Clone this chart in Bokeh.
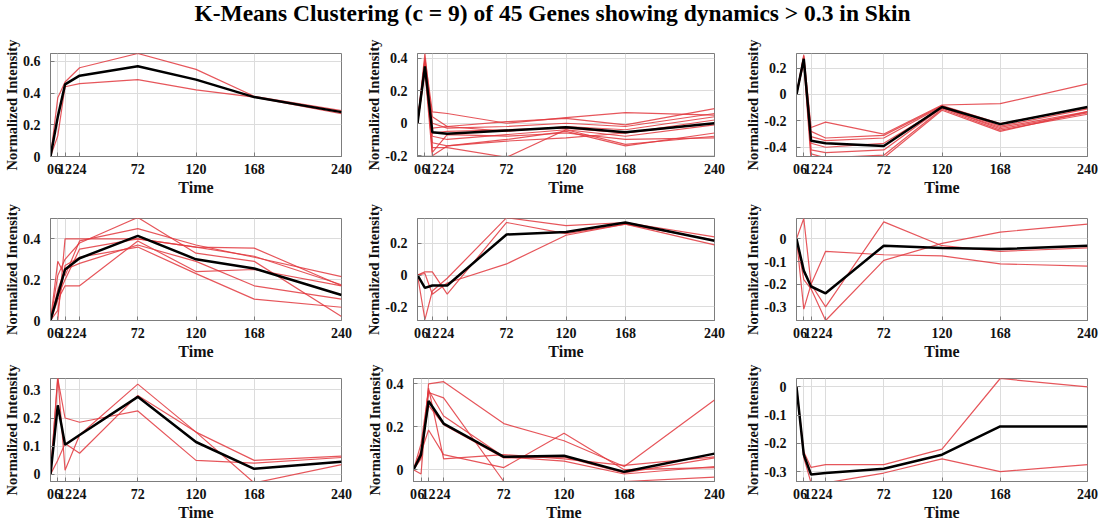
from bokeh.plotting import figure
from bokeh.layouts import column, row
from bokeh.models import Range1d, FixedTicker, CustomJSTickFormatter, Div
from bokeh.embed import file_html
from bokeh.resources import INLINE

# ---------------- data ----------------
title_text = "K-Means Clustering (c = 9) of 45 Genes showing dynamics &gt; 0.3 in Skin"
time_h = [0, 6, 12, 24, 72, 120, 168, 240]
x_label = "Time"
y_label = "Normalized Intensity"

c1_genes = [
    [0, 0.37, 0.47, 0.56, 0.65, 0.55, 0.38, 0.29],
    [0, 0.13, 0.44, 0.46, 0.485, 0.42, 0.375, 0.27],
]
c1_mean = [0, 0.25, 0.455, 0.51, 0.57, 0.485, 0.375, 0.28]

c2_genes = [
    [0, 0.40, 0.07, 0.06, 0.00, 0.035, 0.065, 0.05],
    [0, 0.36, 0.04, -0.02, 0.01, 0.03, -0.01, 0.09],
    [0, 0.43, 0.00, -0.03, -0.02, 0.00, -0.02, 0.06],
    [0, 0.33, -0.03, -0.02, -0.05, -0.02, -0.04, 0.04],
    [0, 0.38, -0.06, -0.05, -0.04, -0.03, -0.06, 0.02],
    [0, 0.35, -0.08, -0.10, -0.07, -0.04, -0.08, -0.01],
    [0, 0.37, -0.12, -0.14, -0.10, -0.05, -0.14, -0.06],
    [0, 0.34, -0.15, -0.15, -0.21, -0.04, -0.13, -0.08],
    [0, 0.39, -0.18, -0.07, -0.08, -0.06, -0.10, -0.09],
    [0, 0.32, -0.20, -0.14, -0.11, -0.09, -0.06, 0.00],
]
c2_mean = [0, 0.35, -0.055, -0.065, -0.045, -0.025, -0.055, 0.0]

c3_genes = [
    [0, 0.30, -0.25, -0.21, -0.30, -0.08, -0.07, 0.08],
    [0, 0.28, -0.28, -0.33, -0.31, -0.085, -0.22, -0.10],
    [0, 0.26, -0.32, -0.35, -0.33, -0.09, -0.24, -0.11],
    [0, 0.25, -0.37, -0.40, -0.37, -0.10, -0.25, -0.13],
    [0, 0.27, -0.42, -0.44, -0.42, -0.10, -0.26, -0.14],
    [0, 0.29, -0.45, -0.48, -0.46, -0.11, -0.27, -0.15],
    [0, 0.24, -0.50, -0.52, -0.48, -0.12, -0.28, -0.13],
]
c3_mean = [0, 0.27, -0.35, -0.37, -0.39, -0.095, -0.225, -0.095]

c4_genes = [
    [0, 0.0, 0.40, 0.40, 0.40, 0.36, 0.355, 0.17],
    [0, 0.29, 0.22, 0.39, 0.45, 0.37, 0.31, 0.215],
    [0, 0.22, 0.30, 0.38, 0.505, 0.33, 0.29, 0.02],
    [0, 0.10, 0.17, 0.17, 0.39, 0.24, 0.25, 0.17],
    [0, 0.15, 0.25, 0.28, 0.37, 0.29, 0.17, 0.105],
    [0, 0.05, 0.27, 0.31, 0.36, 0.23, 0.105, 0.065],
    [0, 0.12, 0.20, 0.35, 0.40, 0.36, 0.315, 0.175],
]
c4_mean = [0, 0.125, 0.25, 0.305, 0.415, 0.30, 0.255, 0.125]

c5_genes = [
    [0, -0.28, -0.10, -0.02, 0.36, 0.31, 0.33, 0.24],
    [0, 0.02, 0.02, -0.12, 0.33, 0.26, 0.32, 0.19],
    [0, 0.01, -0.12, -0.05, 0.07, 0.25, 0.32, 0.22],
]
c5_mean = [0, -0.08, -0.065, -0.065, 0.255, 0.27, 0.33, 0.215]

c6_genes = [
    [0, 0.09, -0.20, -0.30, 0.075, -0.03, -0.055, -0.04],
    [0, -0.31, -0.20, -0.055, -0.07, -0.075, -0.11, -0.12],
    [0, -0.18, -0.22, -0.36, -0.095, -0.02, 0.03, 0.065],
]
c6_mean = [0, -0.14, -0.21, -0.24, -0.03, -0.04, -0.045, -0.03]

c7_genes = [
    [0, 0.34, 0.20, 0.185, 0.225, 0.05, 0.04, 0.06],
    [0, 0.35, 0.015, 0.14, 0.32, 0.15, 0.05, 0.065],
    [0, 0.05, 0.11, 0.075, 0.28, 0.15, -0.03, 0.035],
]
c7_mean = [0, 0.245, 0.105, 0.14, 0.275, 0.115, 0.02, 0.045]

c8_genes = [
    [0, -0.02, 0.40, 0.41, 0.215, 0.135, 0.015, 0.325],
    [0, 0.05, 0.36, 0.335, -0.055, -0.055, -0.055, -0.035],
    [0, 0.06, 0.38, 0.05, 0.07, 0.05, 0.02, 0.06],
    [0, 0.08, 0.185, 0.07, 0.01, 0.17, 0.0, 0.01],
    [0, 0.09, 0.30, 0.21, 0.055, 0.06, -0.015, 0.055],
    [0, 0.12, 0.37, 0.25, 0.06, 0.04, -0.02, 0.015],
]
c8_mean = [0, 0.07, 0.32, 0.215, 0.06, 0.065, -0.01, 0.075]

c9_genes = [
    [0, -0.23, -0.285, -0.275, -0.275, -0.22, 0.03, 0.0],
    [0, -0.25, -0.34, -0.34, -0.305, -0.255, -0.30, -0.275],
]
c9_mean = [0, -0.24, -0.31, -0.305, -0.29, -0.24, -0.14, -0.14]

# y axis settings per panel: (range start, range end) and ticks
y_ranges = [(0, 0.65), (-0.205, 0.43), (-0.47, 0.31),
            (0, 0.50), (-0.285, 0.355), (-0.36, 0.09),
            (-0.025, 0.34), (-0.055, 0.425), (-0.335, 0.03)]
y_ticks = [[0, 0.2, 0.4, 0.6], [-0.2, 0, 0.2, 0.4], [-0.4, -0.2, 0, 0.2],
           [0, 0.2, 0.4], [-0.2, 0, 0.2], [-0.3, -0.2, -0.1, 0],
           [0, 0.1, 0.2, 0.3], [0, 0.2, 0.4], [-0.3, -0.2, -0.1, 0]]

genes = [c1_genes, c2_genes, c3_genes, c4_genes, c5_genes, c6_genes, c7_genes, c8_genes, c9_genes]
means = [c1_mean, c2_mean, c3_mean, c4_mean, c5_mean, c6_mean, c7_mean, c8_mean, c9_mean]

# ---------------- layout (pixels) ----------------
col_w = [363, 372, 370]
borders_lr = [(50, 22), (50, 21), (61, 18),
              (50, 22), (50, 21), (61, 18),
              (50, 22), (45, 21), (61, 18)]
row_h = [163, 164, 164]
borders_tb = [(17, 43), (19, 43), (15, 46)]

FONT = "Liberation Serif"
RED = "#e2383e"
BOX = "#7d7d7d"
GRID = "#dcdcdc"

figs = []
for i in range(9):
    r, c = divmod(i, 3)
    bl, br = borders_lr[i]
    bt, bb = borders_tb[r]
    lo, hi = y_ranges[i]
    p = figure(width=col_w[c], height=row_h[r],
               x_range=Range1d(0, 240), y_range=Range1d(lo, hi),
               toolbar_location=None, output_backend="svg",
               min_border_left=bl, min_border_right=br,
               min_border_top=bt, min_border_bottom=bb)
    p.background_fill_color = "white"
    p.border_fill_color = "white"
    p.outline_line_color = BOX
    p.outline_line_width = 1

    p.xaxis.ticker = FixedTicker(ticks=time_h)
    p.yaxis.ticker = FixedTicker(ticks=y_ticks[i])
    p.yaxis.formatter = CustomJSTickFormatter(code="return String(Math.round(tick*1000)/1000);")
    p.xgrid.ticker = FixedTicker(ticks=time_h)
    p.ygrid.ticker = FixedTicker(ticks=y_ticks[i])
    p.grid.grid_line_color = GRID
    p.grid.grid_line_width = 1

    for ax in (p.xaxis, p.yaxis):
        ax.axis_line_color = BOX
        ax.major_tick_line_color = BOX
        ax.major_tick_in = 4
        ax.major_tick_out = 0
        ax.minor_tick_line_color = None
        ax.major_label_text_font = FONT
        ax.major_label_text_font_style = "bold"
        ax.major_label_text_font_size = "14px"
        ax.major_label_text_color = "#111111"
        ax.axis_label_text_font = FONT
        ax.axis_label_text_font_style = "bold"
        ax.axis_label_text_color = "#111111"
    p.xaxis.axis_label = x_label
    p.xaxis.axis_label_text_font_size = "16px"
    p.xaxis.major_label_standoff = 7
    p.xaxis.axis_label_standoff = 2
    p.yaxis.axis_label = y_label
    p.yaxis.axis_label_text_font_size = "14.5px"
    p.yaxis.major_label_standoff = 10
    p.yaxis.axis_label_standoff = 0

    g = genes[i]
    p.multi_line(xs=[time_h] * len(g), ys=g, line_color=RED, line_width=1.2, line_alpha=0.85)
    p.line(time_h, means[i], line_color="black", line_width=2.5)
    figs.append(p)

title = Div(text='<div style="width:1105px;text-align:center;font-family:\'Liberation Serif\';'
                 'font-weight:bold;font-size:23.5px;line-height:26px;color:#000;">' + title_text + '</div>',
            width=1105, height=36, margin=(0, 0, 0, 0))

layout = column(title,
                row(figs[0], figs[1], figs[2]),
                row(figs[3], figs[4], figs[5]),
                row(figs[6], figs[7], figs[8]))

open("out.html", "w").write(file_html(layout, INLINE))
